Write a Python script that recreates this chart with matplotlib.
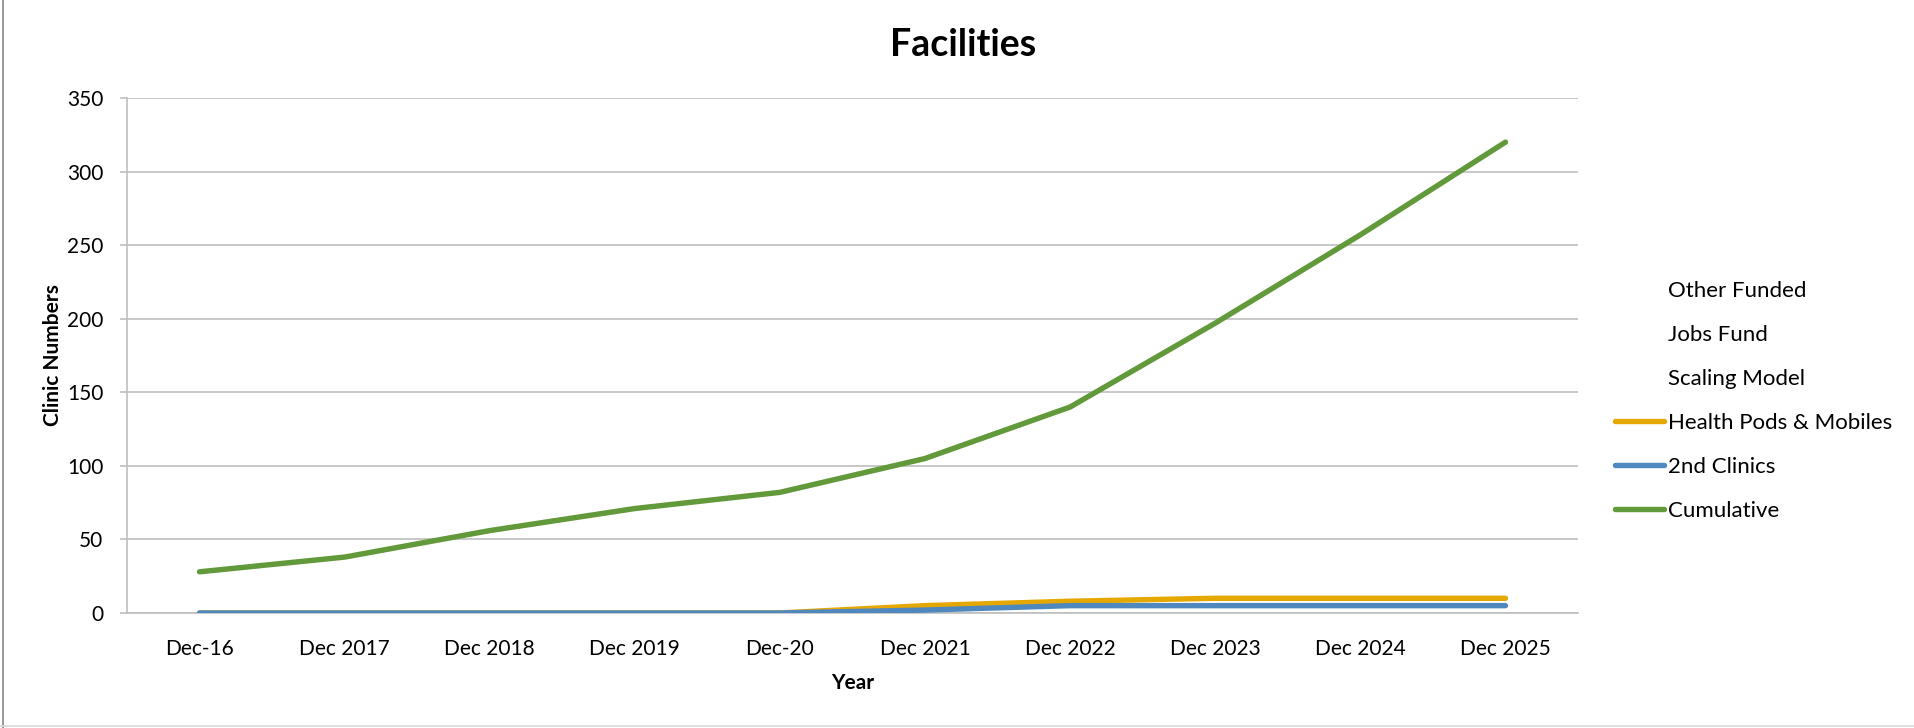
import matplotlib
matplotlib.use("Agg")
import matplotlib.pyplot as plt
from matplotlib.lines import Line2D

plt.rcParams['font.family'] = ['Lato', 'DejaVu Sans']

categories = ["Dec-16", "Dec 2017", "Dec 2018", "Dec 2019", "Dec-20",
              "Dec 2021", "Dec 2022", "Dec 2023", "Dec 2024", "Dec 2025"]
cumulative = [28, 38, 56, 71, 82, 105, 140, 197, 257, 320]
health_pods = [0, 0, 0, 0, 0, 5, 8, 10, 10, 10]
second_clinics = [0, 0, 0, 0, 0, 2, 5, 5, 5, 5]
empty_series = ["Other Funded", "Jobs Fund", "Scaling Model"]
y_ticks = [0, 50, 100, 150, 200, 250, 300, 350]

W, H = 1914, 728
fig = plt.figure(figsize=(W / 100, H / 100), dpi=100)
ax = fig.add_axes([127 / W, 1 - 613 / H, (1578 - 127) / W, (613 - 98) / H])

x = list(range(len(categories)))
lw = 3.9
l_cum, = ax.plot(x, cumulative, color='#62993A', lw=lw, solid_capstyle='round',
                 solid_joinstyle='round', zorder=3)
l_hp, = ax.plot(x, health_pods, color='#E5A800', lw=lw, solid_capstyle='round',
                solid_joinstyle='round', zorder=4)
l_sc, = ax.plot(x, second_clinics, color='#4F88BF', lw=lw, solid_capstyle='round',
                solid_joinstyle='round', zorder=5)

ax.set_xlim(-0.5, len(categories) - 0.5)
ax.set_ylim(0, 350)
ax.set_yticks(y_ticks)
ax.set_xticks(x)
ax.set_xticklabels(categories)
ax.grid(axis='y', color='#BFBFBF', lw=1.2)
ax.set_axisbelow(True)
for s in ['top', 'right']:
    ax.spines[s].set_visible(False)
ax.spines['left'].set_color('#BFBFBF')
ax.spines['bottom'].set_color('#BFBFBF')
ax.spines['left'].set_linewidth(1.2)
ax.spines['bottom'].set_linewidth(1.2)
ax.tick_params(axis='y', length=5, color='#BFBFBF', width=1.2, pad=12, labelsize=15)
ax.tick_params(axis='x', length=0, pad=19, labelsize=15)

ax.set_ylabel("Clinic Numbers", fontsize=15, fontweight='bold', labelpad=3)
ax.set_xlabel("Year", fontsize=15, fontweight='bold', labelpad=10)
fig.text(963 / W, 1 - 45 / H, "Facilities", ha='center', va='center',
         fontsize=27, fontweight='bold')

handles = [Line2D([], [], linestyle='none') for _ in empty_series] + [l_hp, l_sc, l_cum]
labels = empty_series + ["Health Pods & Mobiles", "2nd Clinics", "Cumulative"]
leg = fig.legend(handles, labels, loc='upper left', bbox_to_anchor=(1606 / W, 1 - 272 / H),
                 frameon=False, fontsize=16, handlelength=2.2, handletextpad=0.18,
                 labelspacing=1.08, borderaxespad=0)

# outer chart border (left and bottom visible)
fig.add_artist(Line2D([3 / W, 3 / W], [0, 1], color='#888888', lw=1.2, transform=fig.transFigure))
fig.add_artist(Line2D([0, 1], [1 - 726 / H, 1 - 726 / H], color='#D9D9D9', lw=1.2,
                      transform=fig.transFigure))

fig.savefig("out.png", dpi=100)
